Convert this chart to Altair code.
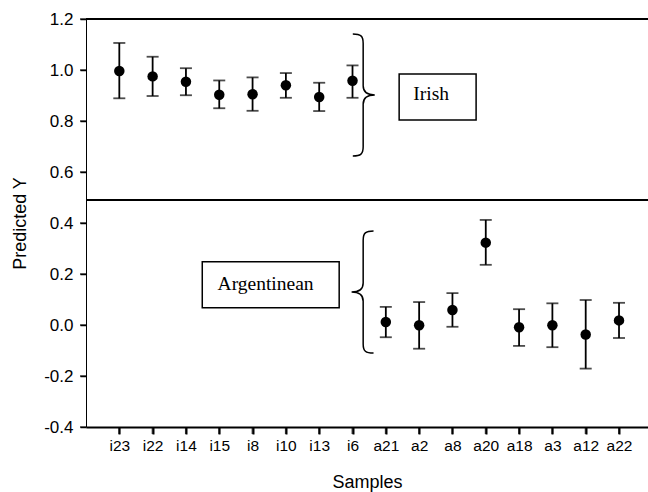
import altair as alt
import pandas as pd

# ---- data ----
samples = ["i23", "i22", "i14", "i15", "i8", "i10", "i13", "i6",
           "a21", "a2", "a8", "a20", "a18", "a3", "a12", "a22"]
predicted = [0.996, 0.975, 0.954, 0.903, 0.905, 0.940, 0.894, 0.958,
             0.012, -0.001, 0.059, 0.323, -0.009, -0.001, -0.037, 0.018]
upper = [1.106, 1.052, 1.007, 0.959, 0.971, 0.988, 0.950, 1.018,
         0.071, 0.090, 0.125, 0.412, 0.062, 0.085, 0.098, 0.087]
lower = [0.889, 0.898, 0.901, 0.850, 0.840, 0.891, 0.839, 0.891,
         -0.048, -0.093, -0.007, 0.236, -0.082, -0.087, -0.171, -0.051]
y_ticks = [-0.4, -0.2, 0.0, 0.2, 0.4, 0.6, 0.8, 1.0, 1.2]
divider = 0.49
group_labels = ["Irish", "Argentinean"]

df = pd.DataFrame({
    "pos": list(range(1, len(samples) + 1)),
    "sample": samples,
    "pred": predicted,
    "hi": upper,
    "lo": lower,
    "ybase": [y_ticks[0]] * len(samples),
})
ytick_df = pd.DataFrame({"v": y_ticks, "x0": [0] * len(y_ticks)})

# annotation placement (data units)
boxes = pd.DataFrame({
    "label": group_labels,
    "x1": [9.40, 3.49], "x2": [11.71, 7.60],
    "y1": [0.984, 0.248], "y2": [0.804, 0.068],
    "tx": [10.36, 5.39], "ty": [0.905, 0.162],
})
braces = pd.DataFrame({
    "x": [8.32, 8.32], "y": [0.902, 0.129], "kind": ["close", "open"],
})

FONT = "Liberation Sans"
SERIF = "Liberation Serif"

x_scale = alt.Scale(domain=[0, 16.87], nice=False, zero=False)
y_scale = alt.Scale(domain=[-0.4, 1.2], nice=False, zero=False)

label_expr = "[" + ",".join("'%s'" % s for s in samples) + "][datum.value - 1]"

x_axis = alt.Axis(values=list(range(1, len(samples) + 1)),
                  labelExpr=label_expr, grid=False, ticks=True,
                  labelOverlap=False, labelBound=False, labelFlush=False,
                  tickSize=7, tickWidth=2, tickColor="#000000", tickOpacity=1,
                  domainColor="black", domainWidth=2,
                  labelFont=FONT, labelFontSize=15.5, labelColor="black",
                  labelPadding=4,
                  titleFont=FONT, titleFontSize=18, titleFontWeight="normal",
                  titleColor="black", titlePadding=20)
y_axis = alt.Axis(values=y_ticks, format=".1f", grid=False, ticks=True,
                  labelExpr="replace(datum.label, '\u2212', '-')",
                  labelOverlap=False, labelFlush=False,
                  tickSize=6, tickColor="#000000", tickWidth=1.5, tickOpacity=1,
                  domainColor="black", domainWidth=1,
                  labelFont=FONT, labelFontSize=17, labelColor="black",
                  labelPadding=7,
                  titleFont=FONT, titleFontSize=18, titleFontWeight="normal",
                  titleColor="black", titlePadding=14)


def X(field):
    return alt.X(field, scale=x_scale, title="Samples", axis=x_axis)


def Y(field):
    return alt.Y(field, scale=y_scale, title="Predicted Y", axis=y_axis)


base = alt.Chart(df)

top_line = alt.Chart(df).mark_rule(color="black", strokeWidth=2).encode(
    y=alt.datum(1.2, scale=y_scale))
mid_line = alt.Chart(df).mark_rule(color="black", strokeWidth=1).encode(
    y=alt.datum(divider, scale=y_scale))

# explicit tick marks along both axes (drawn through the same scales)
x_tickmarks = base.mark_tick(color="black", thickness=2, size=7, orient="vertical",
                             yOffset=3.5, clip=False).encode(
    x=X("pos:Q"), y=Y("ybase:Q"))
y_tickmarks = alt.Chart(ytick_df).mark_tick(color="black", thickness=1.5, size=6,
                                            orient="horizontal", xOffset=-3, clip=False).encode(
    x=X("x0:Q"), y=Y("v:Q"))

bars = base.mark_rule(color="black", strokeWidth=1.8).encode(
    x=X("pos:Q"), y=Y("lo:Q"), y2="hi:Q")
cap_hi = base.mark_tick(color="black", thickness=1.8, size=12, orient="horizontal").encode(
    x=X("pos:Q"), y=Y("hi:Q"))
cap_lo = base.mark_tick(color="black", thickness=1.8, size=12, orient="horizontal").encode(
    x=X("pos:Q"), y=Y("lo:Q"))
points = base.mark_circle(color="black", opacity=1, size=110).encode(
    x=X("pos:Q"), y=Y("pred:Q"))

close_path = ("M -0.17 -1 C -0.04 -1 0 -0.97 0 -0.85 L 0 -0.15 "
              "C 0 -0.05 0.06 0 0.19 0 C 0.06 0 0 0.05 0 0.15 "
              "L 0 0.85 C 0 0.97 -0.04 1 -0.17 1")
open_path = ("M 0.17 -1 C 0.04 -1 0 -0.97 0 -0.85 L 0 -0.15 "
             "C 0 -0.05 -0.06 0 -0.19 0 C -0.06 0 0 0.05 0 0.15 "
             "L 0 0.85 C 0 0.97 0.04 1 0.17 1")

brace_close = alt.Chart(braces).transform_filter("datum.kind == 'close'").mark_point(
    shape=close_path, size=14884, filled=False, color="black", strokeWidth=1.5, opacity=1
).encode(x=X("x:Q"), y=Y("y:Q"))
brace_open = alt.Chart(braces).transform_filter("datum.kind == 'open'").mark_point(
    shape=open_path, size=14884, filled=False, color="black", strokeWidth=1.5, opacity=1
).encode(x=X("x:Q"), y=Y("y:Q"))

box_rects = alt.Chart(boxes).mark_rect(fill="white", stroke="black", strokeWidth=1.5).encode(
    x=X("x1:Q"), x2="x2:Q", y=Y("y1:Q"), y2="y2:Q")
box_text = alt.Chart(boxes).mark_text(font=SERIF, fontSize=19.5, color="black",
                                      align="center", baseline="middle").encode(
    x=X("tx:Q"), y=Y("ty:Q"), text="label:N")

chart = alt.layer(
    top_line, mid_line, x_tickmarks, y_tickmarks, bars, cap_hi, cap_lo, points,
    brace_close, brace_open, box_rects, box_text
).properties(
    width=562, height=408,
    autosize=alt.AutoSizeParams(type="none"),
    padding={"left": 86, "top": 19, "right": 0, "bottom": 65},
    background="white",
).configure_view(stroke=None).configure_axis(
    labelOverlap=False, ticks=True, tickColor="#000000", tickOpacity=1)

chart.save("out.html", embed_options={"renderer": "svg", "actions": False})
